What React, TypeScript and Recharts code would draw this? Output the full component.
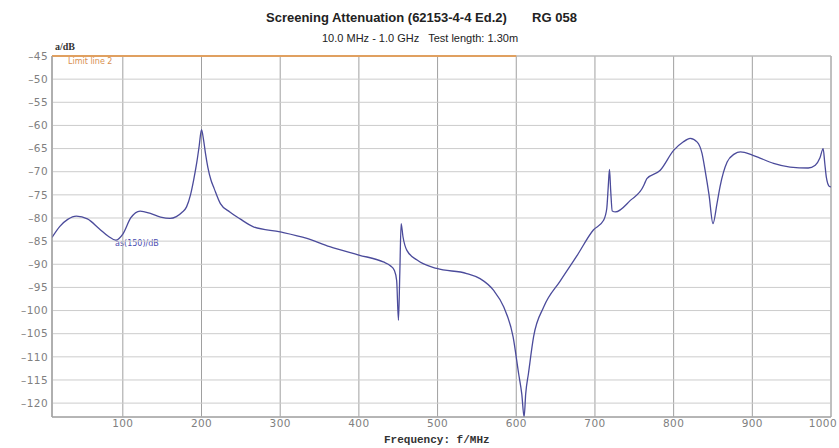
import {
  CartesianGrid,
  Line,
  LineChart,
  ReferenceArea,
  ReferenceLine,
  XAxis,
  YAxis,
} from "recharts";

// frequency in MHz, attenuation in dB
const freqMHz = [
  10, 20, 30, 41, 55, 70, 82, 91, 100, 110, 122, 135, 148, 160, 168, 175, 181, 186, 190, 194,
  197, 200, 202.5, 205, 208, 212, 216, 224, 236, 249, 266, 300, 334, 363, 400, 431, 440, 445,
  448, 450.3, 452, 453.7, 456, 461, 474, 499, 537, 554, 571, 584, 596, 603, 607, 610, 612, 615.5,
  622, 635, 656, 677, 698, 711, 715, 717, 718.5, 720, 722, 726, 745, 762, 764, 766, 783, 800, 812,
  821, 830, 836, 840, 845, 850, 855, 859, 868, 877, 885, 900, 909, 927, 948, 971, 980, 986, 990,
  992, 994, 998, 1000,
];
const attenuationDb = [
  -84.2, -81.8, -80.3, -79.6, -80.2, -82.3, -84.0, -84.8, -83.5, -80.0, -78.5, -79.0, -79.8,
  -80.1, -79.7, -78.8, -77.6, -75.0, -71.8, -68.0, -64.5, -60.9, -63.0, -66.0, -69.0, -71.8,
  -73.6, -76.9, -78.7, -80.2, -81.9, -83.0, -84.4, -86.2, -88.0, -89.5, -90.3, -91.3, -93.5,
  -102.1, -92.0, -81.2, -84.0, -87.0, -89.1, -90.9, -92.0, -93.1, -95.6, -99.2, -105.7, -113.6,
  -118.0, -123.0, -118.0, -113.6, -105.7, -99.2, -93.6, -88.2, -82.6, -80.5, -78.0, -73.0, -69.5,
  -74.0, -78.5, -78.7, -76.2, -73.0, -72.2, -71.5, -69.7, -65.4, -63.6, -62.8, -63.6, -66.0,
  -69.7, -75.0, -81.2, -77.0, -73.2, -67.9, -66.2, -65.7, -66.4, -67.0, -68.2, -69.0, -69.2,
  -68.6, -67.0, -65.0, -68.0, -71.1, -73.2, -73.3,
];
const xTicks = [100, 200, 300, 400, 500, 600, 700, 800, 900, 1000];
const yTicks = [-45, -50, -55, -60, -65, -70, -75, -80, -85, -90, -95, -100, -105, -110, -115, -120];

const data = freqMHz.map((f, i) => ({ f, a: attenuationDb[i] }));

const tickStyle = { fill: "#808080", fontSize: 10.5, fontFamily: "DejaVu Sans", letterSpacing: 0.4 };

// last tick would run past the right edge, so pull it in a little
function XTick(props: any) {
  const { x, y, payload } = props;
  const last = payload.value === 1000;
  return (
    <text
      x={last ? 837 : x}
      y={y}
      dy="0.71em"
      textAnchor={last ? "end" : "middle"}
      fill={tickStyle.fill}
      fontSize={tickStyle.fontSize}
      fontFamily={tickStyle.fontFamily}
      letterSpacing={tickStyle.letterSpacing}
    >
      {payload.value}
    </text>
  );
}

export default function App() {
  return (
    <div style={{ position: "relative", width: 839, height: 448, background: "#fff" }}>
      <style>{`body{margin:0}`}</style>
      <div
        style={{
          position: "absolute",
          left: 266,
          top: 10,
          font: "bold 13px 'Liberation Sans', Arial, sans-serif",
          color: "#222",
          whiteSpace: "pre",
          lineHeight: "16px",
        }}
      >
        {"Screening Attenuation (62153-4-4 Ed.2)       RG 058"}
      </div>
      <div
        style={{
          position: "absolute",
          left: 322,
          top: 31,
          font: "11px 'Liberation Sans', Arial, sans-serif",
          color: "#222",
          whiteSpace: "pre",
          lineHeight: "14px",
        }}
      >
        {"10.0 MHz - 1.0 GHz   Test length: 1.30m"}
      </div>
      <div
        style={{
          position: "absolute",
          left: 55,
          top: 41,
          font: "bold 10px 'Liberation Serif', serif",
          color: "#333",
          lineHeight: "12px",
        }}
      >
        a/dB
      </div>
      <div
        style={{
          position: "absolute",
          left: 68,
          top: 57,
          font: "8px 'DejaVu Sans', sans-serif",
          color: "#d89050",
          lineHeight: "9px",
        }}
      >
        Limit line 2
      </div>
      <div
        style={{
          position: "absolute",
          left: 115,
          top: 239,
          font: "8px 'DejaVu Sans', sans-serif",
          color: "#4b4bb0",
          lineHeight: "9px",
        }}
      >
        as(150)/dB
      </div>
      <div
        style={{
          position: "absolute",
          left: 384,
          top: 434,
          font: "bold 11px 'Liberation Mono', monospace",
          color: "#333",
          lineHeight: "13px",
          whiteSpace: "pre",
        }}
      >
        Frequency: f/MHz
      </div>
      <LineChart
        width={839}
        height={448}
        data={data}
        margin={{ top: 56, right: 8, bottom: 11, left: 8 }}
      >
        <CartesianGrid horizontal={false} stroke="#a0a0a0" />
        <CartesianGrid vertical={false} stroke="#cccccc" />
        <XAxis
          dataKey="f"
          type="number"
          domain={[10, 1000]}
          ticks={xTicks}
          allowDataOverflow
          height={20}
          tickSize={1}
          tickMargin={2}
          tickLine={false}
          axisLine={{ stroke: "#a0a0a0" }}
          tick={<XTick />}
        />
        <YAxis
          type="number"
          domain={[-123, -45]}
          ticks={yTicks}
          allowDataOverflow
          width={44}
          tickSize={2}
          tickMargin={2}
          tickLine={false}
          axisLine={{ stroke: "#a0a0a0" }}
          tick={tickStyle}
          tickFormatter={(v: number) => `\u2013${Math.abs(v)}`}
        />
        <ReferenceArea
          x1={10}
          x2={1000}
          y1={-123}
          y2={-45}
          fill="none"
          stroke="#b0b0b0"
          strokeWidth={1}
        />
        <ReferenceLine
          segment={[
            { x: 10, y: -45 },
            { x: 600, y: -45 },
          ]}
          stroke="#e0a060"
          strokeWidth={2}
        />
        <Line
          type="monotone"
          dataKey="a"
          stroke="#4b4b9b"
          strokeWidth={1.3}
          dot={false}
          isAnimationActive={false}
        />
      </LineChart>
    </div>
  );
}
